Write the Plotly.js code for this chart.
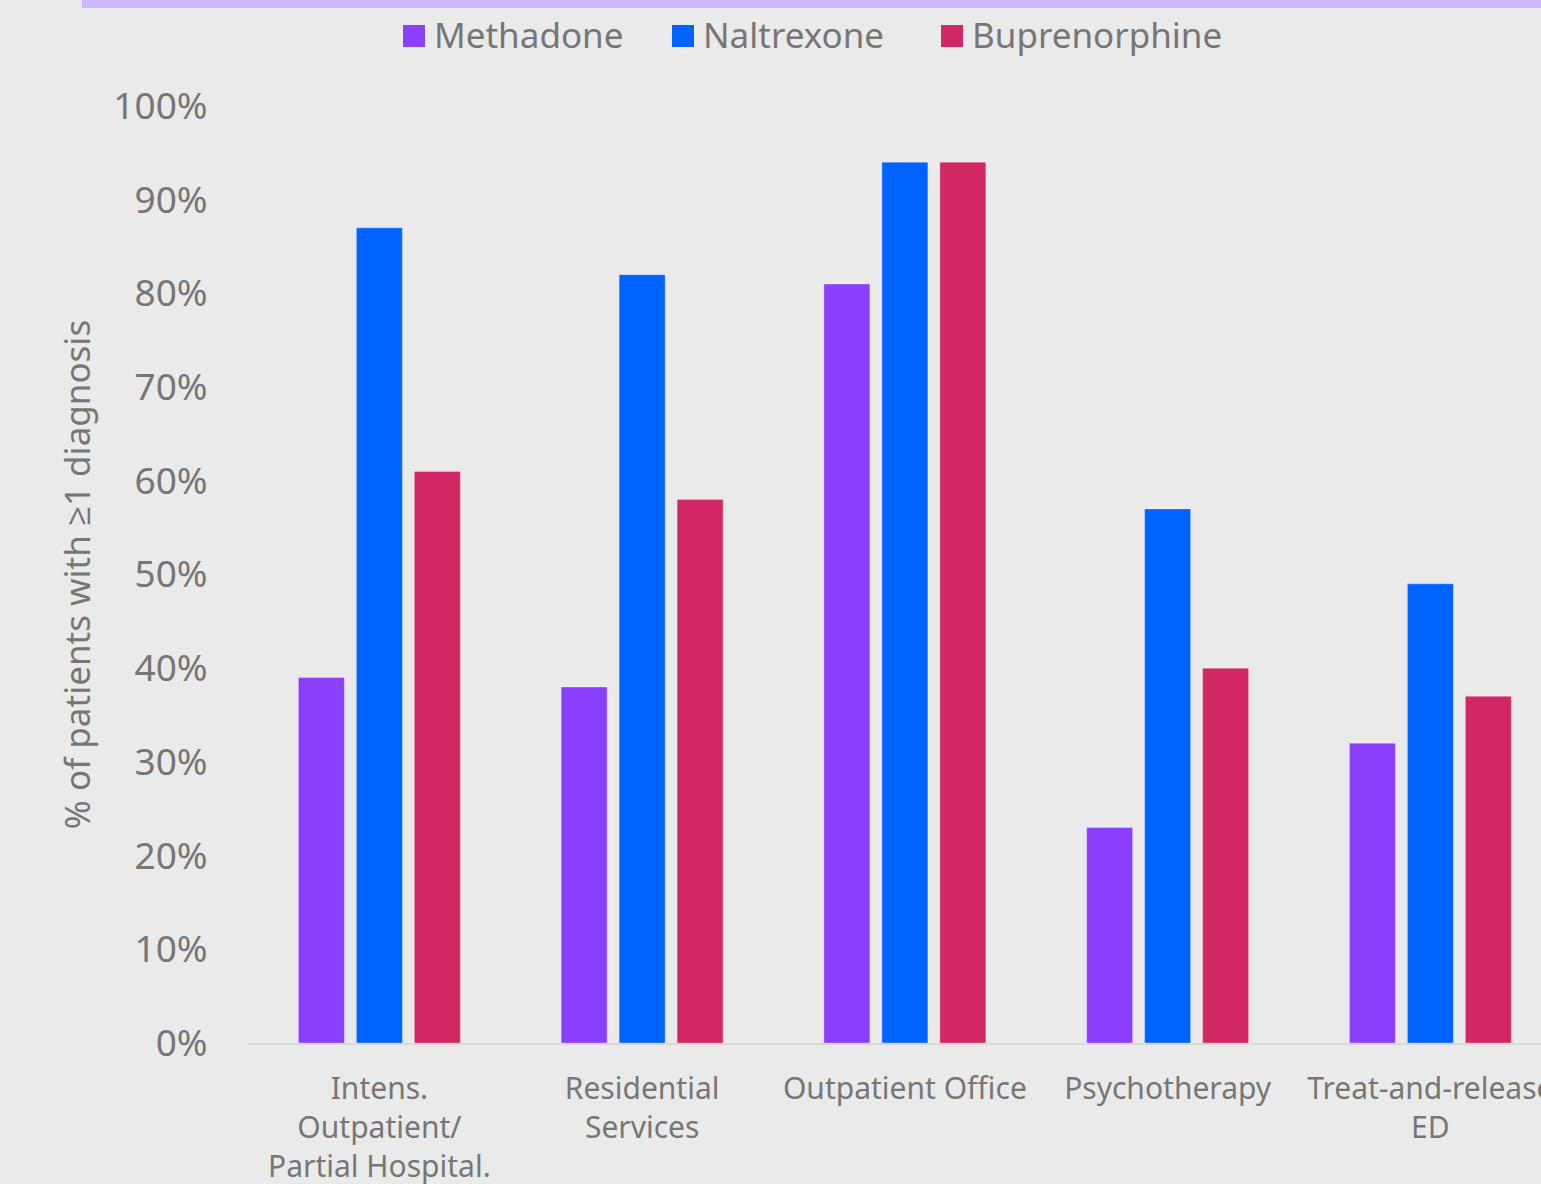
<!DOCTYPE html>
<html>
<head>
<meta charset="utf-8">
<script src="https://cdn.plot.ly/plotly-3.0.1.min.js"></script>
<style>
  html, body { margin: 0; padding: 0; background: #eaeaea; overflow: hidden; }
  #chart { width: 1541px; height: 1184px; }
</style>
</head>
<body>
<div id="chart"></div>
<script>
// ---- data ----
var categories = [
  "Intens.<br>Outpatient/<br>Partial Hospital.",
  "Residential<br>Services",
  "Outpatient Office",
  "Psychotherapy",
  "Treat-and-release<br>ED"
];
var seriesNames = ["Methadone", "Naltrexone", "Buprenorphine"];
var methadone     = [0.39, 0.38, 0.81, 0.23, 0.32];
var naltrexone    = [0.87, 0.82, 0.94, 0.57, 0.49];
var buprenorphine = [0.61, 0.58, 0.94, 0.40, 0.37];
var yTickVals = [0, 0.1, 0.2, 0.3, 0.4, 0.5, 0.6, 0.7, 0.8, 0.9, 1.0];

// ---- styling ----
var colors = ["#8a3ffc", "#0062ff", "#d12765"];
var textColor = "#767676";
var fontFamily = "'Noto Sans', 'Open Sans', sans-serif";
var W = 1541, H = 1184;
var mL = 248, mR = 0, mT = 106, mB = 141;
var plotW = W - mL - mR;
var plotH = H - mT - mB;

var allSeries = [methadone, naltrexone, buprenorphine];
var traces = allSeries.map(function (vals, i) {
  return {
    type: "bar",
    name: seriesNames[i],
    x: categories,
    y: vals,
    marker: { color: colors[i], line: { color: "rgba(255,255,255,0.3)", width: 1 } },
    showlegend: false,
    hoverinfo: "x+y+name"
  };
});

// custom legend (pixel positions converted to paper coords)
function px2x(px) { return (px - mL) / plotW; }
function py2y(py) { return (H - mB - py) / plotH; }
var legendSquares = [403, 672, 941];
var shapes = [];
var annotations = [];
legendSquares.forEach(function (sx, i) {
  shapes.push({
    type: "rect", xref: "paper", yref: "paper",
    x0: px2x(sx), x1: px2x(sx + 22), y0: py2y(47), y1: py2y(25),
    fillcolor: colors[i], line: { width: 0 }
  });
  annotations.push({
    xref: "paper", yref: "paper",
    x: px2x(sx + 29), y: py2y(35),
    xanchor: "left", yanchor: "middle",
    text: seriesNames[i], showarrow: false,
    font: { family: fontFamily, size: 35, color: textColor }
  });
});
// top title band
shapes.push({
  type: "rect", xref: "paper", yref: "paper",
  x0: px2x(82), x1: px2x(1545), y0: py2y(8), y1: py2y(-5),
  fillcolor: "#cfb7fb", line: { width: 0 }
});

var layout = {
  width: W, height: H,
  margin: { l: mL, r: mR, t: mT, b: mB, pad: 0 },
  paper_bgcolor: "#eaeaea",
  plot_bgcolor: "#eaeaea",
  barmode: "group",
  bargap: 0.338,
  bargroupgap: 0.207,
  font: { family: fontFamily, color: textColor },
  xaxis: {
    range: [-0.5, (W - mL) / ((1430 - 379) / 4) - 0.5],
    showgrid: false, zeroline: false,
    showline: true, linecolor: "#d8d8d8", linewidth: 2,
    ticks: "outside", ticklen: 18, tickcolor: "rgba(0,0,0,0)",
    tickfont: { family: fontFamily, size: 30, color: textColor },
    tickangle: 0,
    automargin: false
  },
  yaxis: {
    range: [0, 1],
    tickvals: yTickVals,
    tickformat: ".0%",
    showgrid: false, zeroline: false, showline: false,
    ticks: "outside", ticklen: 32, tickcolor: "rgba(0,0,0,0)",
    tickfont: { family: fontFamily, size: 37, color: textColor },
    title: { text: "% of patients with \u22651 diagnosis", font: { family: fontFamily, size: 35, color: textColor }, standoff: 12 },
    automargin: false
  },
  shapes: shapes,
  annotations: annotations
};

Plotly.newPlot("chart", traces, layout, { displayModeBar: false, staticPlot: true });
</script>
</body>
</html>
